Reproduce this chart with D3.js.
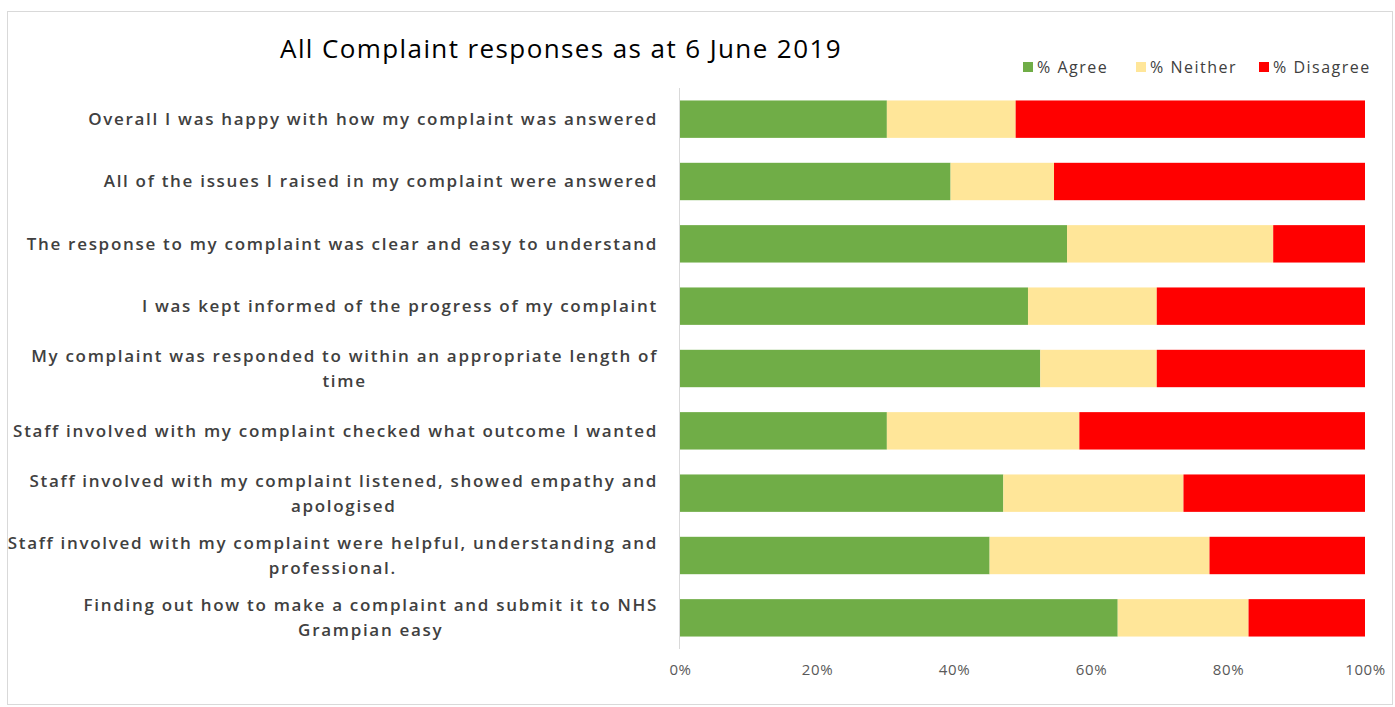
<!DOCTYPE html>
<html>
<head>
<meta charset="utf-8">
<script src="https://cdn.jsdelivr.net/npm/d3@7"></script>
<style>
  body { margin: 0; background: #fff; }
  text { font-family: "Open Sans", "Noto Sans", sans-serif; }
</style>
</head>
<body>
<svg></svg>
<script>
var width = 1395,
    height = 707

// questions, top to bottom; each is split into its wrapped lines
var questions = [
    ["Overall I was happy with how my complaint was answered"],
    ["All of the issues I raised in my complaint were answered"],
    ["The response to my complaint was clear and easy to understand"],
    ["I was kept informed of the progress of my complaint"],
    ["My complaint was responded to within an appropriate length of", "time"],
    ["Staff involved with my complaint checked what outcome I wanted"],
    ["Staff involved with my complaint listened, showed empathy and", "apologised"],
    ["Staff involved with my complaint were helpful, understanding and", "professional."],
    ["Finding out how to make a complaint and submit it to NHS", "Grampian easy"]
];

var agree    = [30.2, 39.5, 56.5, 50.8, 52.6, 30.2, 47.2, 45.2, 63.9];
var neither  = [18.8, 15.1, 30.1, 18.8, 17.0, 28.1, 26.3, 32.1, 19.1];
var disagree = [51.0, 45.4, 13.4, 30.4, 30.4, 41.7, 26.5, 22.7, 17.0];

var seriesNames = ["% Agree", "% Neither", "% Disagree"];
var seriesColors = ["#70AD47", "#FFE699", "#FF0000"];
var xTicks = [0, 0.2, 0.4, 0.6, 0.8, 1];

var svg = d3.select("svg")
    .attr("width", width)
    .attr("height", height);

// chart frame
svg.append("rect")
    .attr("x", 7.5).attr("y", 11.5)
    .attr("width", 1385).attr("height", 693)
    .attr("fill", "none")
    .attr("stroke", "#d9d9d9");

var rows = questions.map(function (q, i) {
    return { idx: i, agree: agree[i], neither: neither[i], disagree: disagree[i] };
});

var x = d3.scaleLinear().domain([0, 1]).range([680, 1365]);
var y = d3.scaleBand()
    .domain(rows.map(function (d) { return d.idx; }))
    .range([88, 649])
    .paddingInner(0.4)
    .paddingOuter(0.2);

var stack = d3.stack()
    .keys(["agree", "neither", "disagree"])
    .offset(d3.stackOffsetExpand);

var layers = stack(rows);

svg.append("g")
    .selectAll("g")
    .data(layers)
    .enter()
    .append("g")
    .attr("fill", function (d, i) { return seriesColors[i]; })
    .selectAll("rect")
    .data(function (d) { return d; })
    .enter()
    .append("rect")
    .attr("x", function (d) { return x(d[0]); })
    .attr("width", function (d) { return x(d[1]) - x(d[0]); })
    .attr("y", function (d) { return y(d.data.idx); })
    .attr("height", y.bandwidth());

// vertical category axis line
svg.append("line")
    .attr("x1", 679.5).attr("x2", 679.5)
    .attr("y1", 88).attr("y2", 649)
    .attr("stroke", "#d9d9d9");

// x axis tick labels
var xAxis = d3.axisBottom(x)
    .tickValues(xTicks)
    .tickFormat(d3.format(".0%"))
    .tickSize(0)
    .tickPadding(0);

var gx = svg.append("g")
    .attr("transform", "translate(0,664)")
    .call(xAxis);
gx.select(".domain").remove();
gx.selectAll("text")
    .attr("fill", "#595959")
    .style("font-size", "15px")
    .style("letter-spacing", "0.6px")
    .style("font-family", "\"Open Sans\", sans-serif");

// category labels, right aligned, wrapped lines centred under the first
var labelRight = 658;
var labels = svg.append("g")
    .selectAll("g")
    .data(questions)
    .enter()
    .append("g");

function labelStyle(t) {
    return t.attr("fill", "#404040")
        .style("font-size", "17px")
        .style("font-weight", "600")
        .style("letter-spacing", "1.7px");
}

labels.each(function (lines, i) {
    var g = d3.select(this);
    var cy = y(i) + y.bandwidth() / 2;
    var lineH = 25;
    var first = g.append("text")
        .attr("x", labelRight)
        .attr("y", cy - (lines.length - 1) * lineH / 2)
        .attr("dy", "0.35em")
        .attr("text-anchor", "end")
        .call(labelStyle)
        .text(lines[0]);
    var w = first.node().getComputedTextLength();
    for (var k = 1; k < lines.length; k++) {
        g.append("text")
            .attr("x", labelRight - w / 2)
            .attr("y", cy - (lines.length - 1) * lineH / 2 + k * lineH)
            .attr("dy", "0.35em")
            .attr("text-anchor", "middle")
            .call(labelStyle)
            .text(lines[k]);
    }
});

// title
svg.append("text")
    .attr("x", 561)
    .attr("y", 58)
    .attr("text-anchor", "middle")
    .attr("fill", "#000")
    .style("font-size", "26px")
    .style("letter-spacing", "1.4px")
    .text("All Complaint responses as at 6 June 2019");

// legend
var legendX = [1023, 1136, 1259];
var legend = svg.append("g")
    .selectAll("g")
    .data(seriesNames)
    .enter()
    .append("g")
    .attr("transform", function (d, i) { return "translate(" + legendX[i] + ",67)"; });

legend.append("rect")
    .attr("x", 0).attr("y", -5)
    .attr("width", 10).attr("height", 10)
    .attr("fill", function (d, i) { return seriesColors[i]; });

legend.append("text")
    .attr("x", 14)
    .attr("dy", "0.35em")
    .attr("fill", "#404040")
    .style("font-size", "16px")
    .style("letter-spacing", "1.5px")
    .text(function (d) { return d; });
</script>
</body>
</html>
